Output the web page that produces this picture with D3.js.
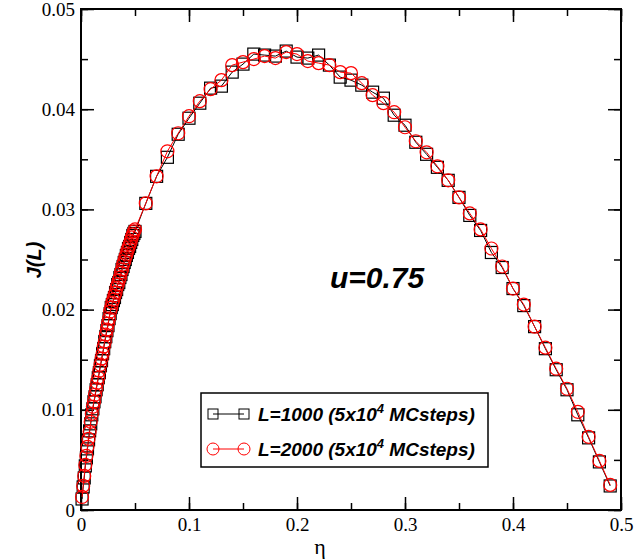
<!DOCTYPE html>
<html>
<head>
<meta charset="utf-8">
<script src="https://cdn.jsdelivr.net/npm/d3@7"></script>
<style>
body { margin: 0; background: #fff; }
svg { display: block; }
</style>
</head>
<body>
<div id="chart"></div>
<script>
// eta values: dense part 0.001..0.050, then every 0.01 up to 0.49
var etaDense = [0.001,0.002,0.003,0.004,0.005,0.006,0.007,0.008,0.009,0.010,
  0.011,0.012,0.013,0.014,0.015,0.016,0.017,0.018,0.019,0.020,
  0.021,0.022,0.023,0.024,0.025,0.026,0.027,0.028,0.029,0.030,
  0.031,0.032,0.033,0.034,0.035,0.036,0.037,0.038,0.039,0.040,
  0.041,0.042,0.043,0.044,0.045,0.046,0.047,0.048,0.049,0.050];
var etaSparse = [0.06,0.07,0.08,0.09,0.10,0.11,0.12,0.13,0.14,0.15,
  0.16,0.17,0.18,0.19,0.20,0.21,0.22,0.23,0.24,0.25,
  0.26,0.27,0.28,0.29,0.30,0.31,0.32,0.33,0.34,0.35,
  0.36,0.37,0.38,0.39,0.40,0.41,0.42,0.43,0.44,0.45,
  0.46,0.47,0.48,0.49];

var jL1000Dense = [0.0011,0.0023,0.0032,0.0044,0.0052,0.0061,0.0070,0.0079,0.0086,0.0095,
  0.0101,0.0108,0.0113,0.0120,0.0125,0.0132,0.0137,0.0144,0.0149,0.0156,
  0.0161,0.0168,0.0173,0.0179,0.0184,0.0191,0.0196,0.0202,0.0205,0.0209,
  0.0212,0.0217,0.0220,0.0225,0.0227,0.0232,0.0235,0.0240,0.0243,0.0247,
  0.0250,0.0254,0.0257,0.0261,0.0263,0.0267,0.0270,0.0274,0.0276,0.0278];
var jL2000Dense = [0.0013,0.0024,0.0034,0.0045,0.0054,0.0063,0.0071,0.0078,0.0088,0.0096,
  0.0103,0.0108,0.0115,0.0121,0.0127,0.0132,0.0139,0.0145,0.0151,0.0156,
  0.0163,0.0168,0.0175,0.0180,0.0186,0.0191,0.0198,0.0202,0.0207,0.0210,
  0.0214,0.0217,0.0222,0.0225,0.0229,0.0232,0.0237,0.0240,0.0245,0.0248,
  0.0252,0.0255,0.0259,0.0262,0.0265,0.0268,0.0272,0.0275,0.0278,0.0280];

var jL1000Sparse = [0.0306,0.0333,0.0352,0.0375,0.0391,0.0406,0.0421,0.0423,0.0437,0.0445,
  0.0455,0.0454,0.0453,0.0458,0.0452,0.0451,0.0454,0.0444,0.0432,0.0429,
  0.0424,0.0417,0.0411,0.0394,0.0384,0.0367,0.0355,0.0342,0.0329,0.0312,
  0.0294,0.0279,0.0257,0.0242,0.0221,0.0204,0.0183,0.0161,0.0140,0.0120,
  0.0095,0.0072,0.0048,0.0024];
var jL2000Sparse = [0.0306,0.0333,0.0358,0.0376,0.0393,0.0408,0.0420,0.0429,0.0444,0.0447,
  0.0450,0.0453,0.0451,0.0457,0.0455,0.0448,0.0446,0.0444,0.0437,0.0436,
  0.0426,0.0414,0.0406,0.0397,0.0382,0.0368,0.0357,0.0343,0.0329,0.0312,
  0.0296,0.0280,0.0261,0.0243,0.0221,0.0205,0.0183,0.0162,0.0141,0.0121,
  0.0098,0.0073,0.0049,0.0025];

var xTicks = [0, 0.1, 0.2, 0.3, 0.4, 0.5];
var yTicks = [0, 0.01, 0.02, 0.03, 0.04, 0.05];

function drawChart() {
  var W = 636, H = 560;
  var pLeft = 81, pRight = 621, pTop = 9, pBottom = 510;

  var svg = d3.select("#chart").append("svg")
    .attr("width", W).attr("height", H);

  var x = d3.scaleLinear().domain([0, 0.5]).range([pLeft, pRight]);
  var y = d3.scaleLinear().domain([0, 0.05]).range([pBottom, pTop]);

  function pairs(ex, jy) {
    return ex.map(function(e, i) { return [e, jy[i]]; });
  }
  var s1000 = pairs(etaDense, jL1000Dense).concat(pairs(etaSparse, jL1000Sparse));
  var s2000 = pairs(etaDense, jL2000Dense).concat(pairs(etaSparse, jL2000Sparse));

  // ticks (inside, on all four sides)
  var fmt = function(d) { return d === 0 ? "0" : String(+d.toFixed(2)); };
  var minorX = d3.range(0, 0.5001, 0.05), minorY = d3.range(0, 0.05001, 0.005);

  function tickGroup(axis, tr) {
    var g = svg.append("g").attr("transform", tr).call(axis);
    g.select(".domain").remove();
    g.selectAll("line").attr("stroke", "#000").attr("stroke-width", 1.5);
    return g;
  }
  // bottom
  tickGroup(d3.axisBottom(x).tickValues(minorX).tickSize(-7).tickFormat(""), "translate(0," + pBottom + ")");
  var gx = tickGroup(d3.axisBottom(x).tickValues(xTicks).tickSize(-13).tickPadding(8).tickFormat(fmt), "translate(0," + pBottom + ")");
  gx.selectAll("text").attr("font-family", "Liberation Serif, serif").attr("font-size", 19).attr("fill", "#000");
  // top
  tickGroup(d3.axisTop(x).tickValues(minorX).tickSize(-7).tickFormat(""), "translate(0," + pTop + ")");
  tickGroup(d3.axisTop(x).tickValues(xTicks).tickSize(-13).tickFormat(""), "translate(0," + pTop + ")");
  // left
  tickGroup(d3.axisLeft(y).tickValues(minorY).tickSize(-7).tickFormat(""), "translate(" + pLeft + ",0)");
  var gy = tickGroup(d3.axisLeft(y).tickValues(yTicks).tickSize(-13).tickPadding(6).tickFormat(fmt), "translate(" + pLeft + ",0)");
  gy.selectAll("text").attr("font-family", "Liberation Serif, serif").attr("font-size", 19).attr("fill", "#000");
  // right
  tickGroup(d3.axisRight(y).tickValues(minorY).tickSize(-7).tickFormat(""), "translate(" + pRight + ",0)");
  tickGroup(d3.axisRight(y).tickValues(yTicks).tickSize(-13).tickFormat(""), "translate(" + pRight + ",0)");

  // frame
  svg.append("rect")
    .attr("x", pLeft).attr("y", pTop)
    .attr("width", pRight - pLeft).attr("height", pBottom - pTop)
    .attr("fill", "none").attr("stroke", "#000").attr("stroke-width", 2);

  var line = d3.line().x(function(d) { return x(d[0]); }).y(function(d) { return y(d[1]); });

  // L=1000 squares
  svg.append("path").datum(s1000).attr("d", line)
    .attr("fill", "none").attr("stroke", "#000").attr("stroke-width", 1);
  svg.append("g").selectAll("rect").data(s1000).enter().append("rect")
    .attr("x", function(d) { return x(d[0]) - 6; })
    .attr("y", function(d) { return y(d[1]) - 6; })
    .attr("width", 12).attr("height", 12)
    .attr("fill", "none").attr("stroke", "#000").attr("stroke-width", 1.2);

  // L=2000 circles
  svg.append("path").datum(s2000).attr("d", line)
    .attr("fill", "none").attr("stroke", "#f00").attr("stroke-width", 1);
  svg.append("g").selectAll("circle").data(s2000).enter().append("circle")
    .attr("cx", function(d) { return x(d[0]); })
    .attr("cy", function(d) { return y(d[1]); })
    .attr("r", 6.5)
    .attr("fill", "none").attr("stroke", "#f00").attr("stroke-width", 1.2);

  // axis titles
  svg.append("text").attr("x", 320).attr("y", 554)
    .attr("text-anchor", "middle")
    .attr("font-family", "Liberation Serif, serif").attr("font-size", 22)
    .text("η");
  svg.append("text")
    .attr("transform", "translate(41,260) rotate(-90)")
    .attr("text-anchor", "middle")
    .attr("font-family", "Liberation Sans, Arial, sans-serif")
    .attr("font-size", 20).attr("font-weight", "bold").attr("font-style", "italic")
    .text("J(L)");

  // annotation
  svg.append("text").attr("x", 330).attr("y", 288)
    .attr("font-family", "Liberation Sans, Arial, sans-serif")
    .attr("font-size", 30).attr("font-weight", "bold").attr("font-style", "italic")
    .text("u=0.75");

  // legend
  var lg = svg.append("g");
  lg.append("rect").attr("x", 201).attr("y", 393).attr("width", 287).attr("height", 74)
    .attr("fill", "#fff").attr("stroke", "#000").attr("stroke-width", 1.5);

  var legendItems = [
    { label: "L=1000", color: "#000", shape: "square", y: 414 },
    { label: "L=2000", color: "#f00", shape: "circle", y: 449 }
  ];
  legendItems.forEach(function(it) {
    lg.append("line").attr("x1", 213).attr("x2", 244).attr("y1", it.y).attr("y2", it.y)
      .attr("stroke", it.color).attr("stroke-width", 1);
    [213, 244].forEach(function(cx) {
      if (it.shape === "square") {
        lg.append("rect").attr("x", cx - 5).attr("y", it.y - 5).attr("width", 10).attr("height", 10)
          .attr("fill", "none").attr("stroke", it.color).attr("stroke-width", 1);
      } else {
        lg.append("circle").attr("cx", cx).attr("cy", it.y).attr("r", 6)
          .attr("fill", "none").attr("stroke", it.color).attr("stroke-width", 1);
      }
    });
    var t = lg.append("text").attr("x", 258).attr("y", it.y + 7)
      .attr("font-family", "Liberation Sans, Arial, sans-serif")
      .attr("font-size", 19).attr("font-weight", "bold").attr("font-style", "italic");
    t.append("tspan").text(it.label + " (5x10");
    t.append("tspan").attr("dy", -8).attr("font-size", 13).text("4");
    t.append("tspan").attr("dy", 8).text(" MCsteps)");
  });
}
drawChart();
</script>
</body>
</html>
